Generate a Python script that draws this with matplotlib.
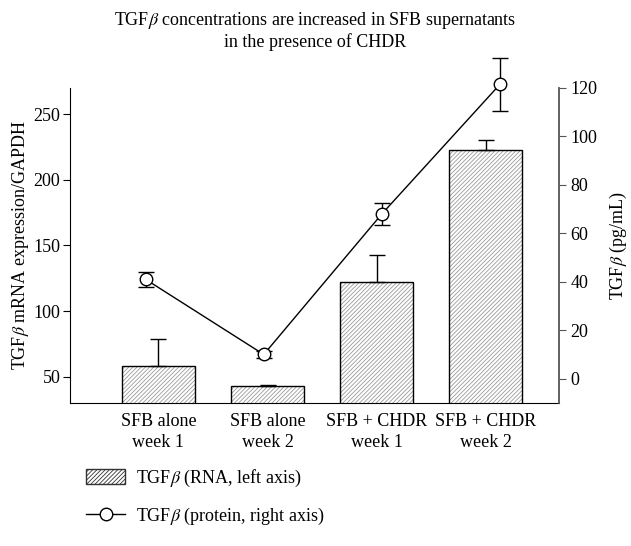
import matplotlib.pyplot as plt
from matplotlib.patches import Patch
from matplotlib.lines import Line2D

plt.rcParams['font.family'] = 'Liberation Serif'
plt.rcParams['mathtext.fontset'] = 'stix'
plt.rcParams['hatch.linewidth'] = 0.6

categories = ["SFB alone\nweek 1", "SFB alone\nweek 2", "SFB + CHDR\nweek 1", "SFB + CHDR\nweek 2"]
rna = [58.5, 43, 122.5, 223]
rna_err = [20, 0.7, 20.5, 7.5]
protein = [41, 10, 68, 121.5]
protein_err = [3, 1.5, 4.5, 11]

fs = 13
fig = plt.figure(figsize=(6.31, 5.46), dpi=100)
rect = [0.111, 0.262, 0.775, 0.577]

# bars on left axis
ax = fig.add_axes(rect)
x = list(range(len(categories)))
ax.bar(x, rna, width=0.67, color="white", edgecolor="#999999",
       hatch="////////", linewidth=0)
ax.bar(x, rna, width=0.67, color="none", edgecolor="black", linewidth=1.0)
ax.errorbar(x, rna, yerr=[[0] * 4, rna_err], fmt="none", ecolor="black",
            elinewidth=1, capsize=6, capthick=1)
ax.set_xlim(-0.81, 3.67)
ax.set_ylim(30, 270)
ax.set_yticks([50, 100, 150, 200, 250])
ax.set_xticks(x)
ax.set_xticklabels(categories, fontsize=fs, linespacing=1.3)
ax.tick_params(axis="x", length=0, pad=7)
ax.tick_params(axis="y", direction="out", length=5, labelsize=fs, pad=2)
ax.spines["top"].set_visible(False)
ax.spines["right"].set_visible(False)
ax.set_ylabel(r"TGF$\beta$ mRNA expression/GAPDH", fontsize=fs, labelpad=2)

# line on right axis
ax2 = fig.add_axes(rect)
ax2.patch.set_visible(False)
for s in ["top", "left", "bottom"]:
    ax2.spines[s].set_visible(False)
ax2.errorbar(range(4), protein, yerr=protein_err, color="black", lw=1,
             marker="o", ms=9, mfc="white", mec="black", mew=1,
             ecolor="black", elinewidth=1, capsize=6, capthick=1, clip_on=False)
ax2.set_xlim(-0.64, 3.50)
ax2.set_ylim(-10, 120)
ax2.set_xticks([])
ax2.yaxis.tick_right()
ax2.yaxis.set_label_position("right")
ax2.spines["right"].set_color("#555555")
ax2.spines["right"].set_linewidth(1.3)
ax2.set_yticks([0, 20, 40, 60, 80, 100, 120])
ax2.tick_params(axis="y", direction="out", length=5, labelsize=fs, color="#555555", pad=3)
ax2.set_ylabel(r"TGF$\beta$ (pg/mL)", fontsize=fs, labelpad=8)

fig.suptitle("TGF$\\beta$ concentrations are increased in SFB supernatants\nin the presence of CHDR",
             x=0.5, y=0.982, fontsize=fs, linespacing=1.15)

handles = [Patch(facecolor="white", edgecolor="#333333", hatch="////////"),
           Line2D([], [], color="black", lw=1, marker="o", ms=9, mfc="white")]
labels = [r"TGF$\beta$ (RNA, left axis)", r"TGF$\beta$ (protein, right axis)"]
fig.legend(handles, labels, loc="upper left", bbox_to_anchor=(0.11, 0.173),
           frameon=False, fontsize=fs, handlelength=2.2, handleheight=0.9,
           labelspacing=0.95, handletextpad=0.6)

plt.savefig("out.png", dpi=100)
